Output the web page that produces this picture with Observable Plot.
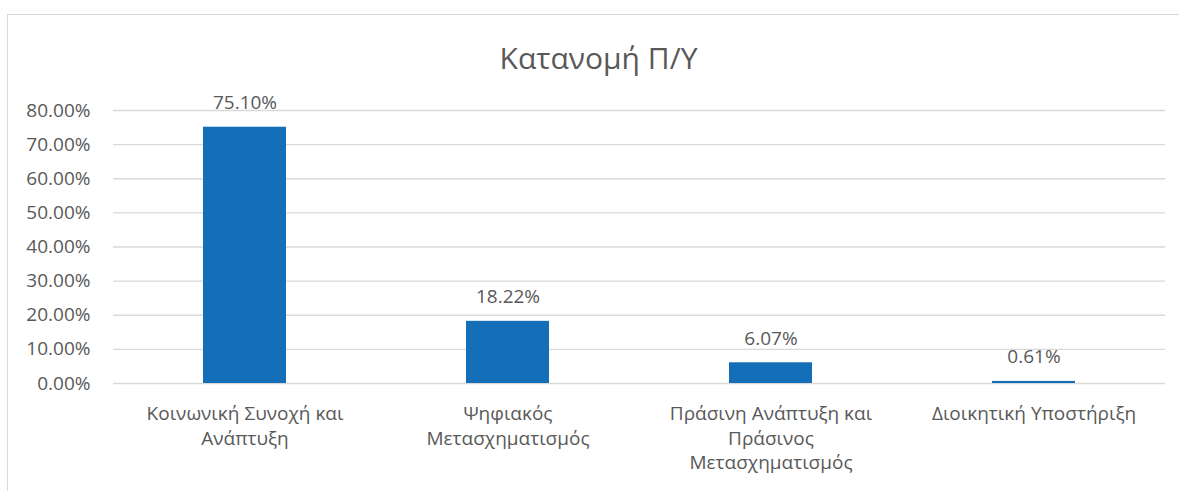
<!DOCTYPE html>
<html>
<head>
<meta charset="utf-8">
<script src="https://cdn.jsdelivr.net/npm/d3@7"></script>
<script src="https://cdn.jsdelivr.net/npm/@observablehq/plot@0.6"></script>
<style>
  html, body { margin: 0; padding: 0; background: #fff; }
  body { width: 1179px; height: 491px; position: relative; overflow: hidden; font-family: "Open Sans", sans-serif; }
  #frame { position: absolute; left: 7px; top: 14px; width: 1200px; height: 600px; border-left: 1.5px solid #d9d9d9; border-top: 1.5px solid #d9d9d9; box-sizing: border-box; }
  #title { position: relative; height: 90px; }
  #title span { position: absolute; left: 18px; width: 1161px; top: 43px; text-align: center; font-size: 30px; line-height: 30px; color: #595959; }
  #chart { position: relative; }
</style>
</head>
<body>
<div id="frame"></div>
<div id="title"><span>Κατανομή Π/Υ</span></div>
<div id="chart"></div>
<script>
const categories = [
  "Κοινωνική Συνοχή και Ανάπτυξη",
  "Ψηφιακός Μετασχηματισμός",
  "Πράσινη Ανάπτυξη και Πράσινος Μετασχηματισμός",
  "Διοικητική Υποστήριξη"
];
const categoryLabels = [
  "Κοινωνική Συνοχή και\nΑνάπτυξη",
  "Ψηφιακός\nΜετασχηματισμός",
  "Πράσινη Ανάπτυξη και\nΠράσινος\nΜετασχηματισμός",
  "Διοικητική Υποστήριξη"
];
const shares = [0.7510, 0.1822, 0.0607, 0.0061];
const yTicks = [0, 0.1, 0.2, 0.3, 0.4, 0.5, 0.6, 0.7, 0.8];

const data = categories.map((c, i) => ({category: c, value: shares[i]}));
const labelOf = new Map(categories.map((c, i) => [c, categoryLabels[i]]));
const pct = v => (v * 100).toFixed(2) + "%";

const fontSize = 19;
const textColor = "#595959";

const chart = Plot.plot({
  width: 1179,
  height: 401,
  marginTop: 20,
  marginBottom: 108,
  marginLeft: 113,
  marginRight: 14,
  style: {fontFamily: "'Open Sans', sans-serif", fontSize: fontSize + "px", color: textColor, background: "transparent"},
  x: {domain: categories, paddingInner: 0.684, paddingOuter: 0.342, label: null},
  y: {domain: [0, 0.8], label: null},
  marks: [
    Plot.ruleY(yTicks, {stroke: "#d9d9d9", strokeWidth: 1.3}),
    Plot.axisY({ticks: yTicks, tickFormat: pct, tickSize: 0, tickPadding: 23, fontSize: fontSize, fill: textColor, label: null}),
    Plot.axisX({tickFormat: d => labelOf.get(d), tickSize: 0, tickPadding: 19, fontSize: fontSize, fill: textColor, lineHeight: 1.3, label: null}),
    Plot.barY(data, {x: "category", y: "value", fill: "#156EB8"}),
    Plot.text(data, {x: "category", y: "value", text: d => pct(d.value), lineAnchor: "bottom", dy: -18, fontSize: fontSize, fill: textColor})
  ]
});
document.getElementById("chart").appendChild(chart);
</script>
</body>
</html>
